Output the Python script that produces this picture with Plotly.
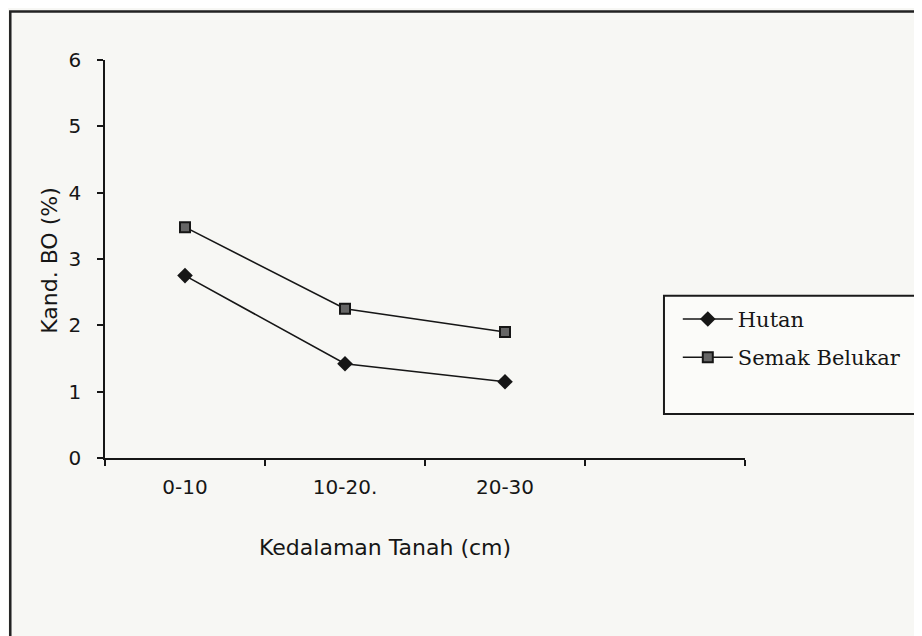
import plotly.graph_objects as go

depth_labels = ['0-10', '10-20.', '20-30']
slot_labels = depth_labels + [' ']
hutan = [2.75, 1.42, 1.15]
semak_belukar = [3.48, 2.25, 1.9]

colors_scheme = {
    'background': '#f7f7f4',
    'ink': '#161616',
    'square_fill': '#666666'
}

fig = go.Figure()
fig.add_trace(go.Scatter(
    name='Hutan',
    x=depth_labels,
    y=hutan,
    mode='lines+markers',
    line=dict(color=colors_scheme['ink'], width=1.6),
    marker=dict(symbol='diamond', size=12, color=colors_scheme['ink']),
    legendgroup='a'
))
fig.add_trace(go.Scatter(
    name='Semak Belukar',
    x=depth_labels,
    y=semak_belukar,
    mode='lines+markers',
    line=dict(color=colors_scheme['ink'], width=1.6),
    marker=dict(symbol='square', size=10, color=colors_scheme['square_fill'],
                line=dict(color=colors_scheme['ink'], width=2)),
    legendgroup='b'
))

# page body adds an 8px offset, so margins are trimmed by 8
fig.update_layout(
    width=922, height=636,
    margin=dict(l=97, r=185, t=52, b=186),
    plot_bgcolor=colors_scheme['background'],
    paper_bgcolor=colors_scheme['background'],
    font=dict(family='DejaVu Sans', size=20, color=colors_scheme['ink']),
    showlegend=True,
    legend=dict(
        x=0.895, y=0.40, xanchor='left', yanchor='top',
        bgcolor='rgba(0,0,0,0)', borderwidth=0,
        font=dict(family='DejaVu Serif', size=21, color=colors_scheme['ink']),
        itemwidth=50, tracegroupgap=8
    ),
    xaxis=dict(
        type='category', categoryorder='array', categoryarray=slot_labels,
        range=[-0.5, 3.5], tickson='boundaries',
        showline=True, linecolor=colors_scheme['ink'], linewidth=1.6,
        ticks='outside', ticklen=6, tickcolor=colors_scheme['ink'], tickwidth=1.5,
        showgrid=False, zeroline=False, ticklabelstandoff=10
    ),
    yaxis=dict(
        range=[0, 6], dtick=1,
        showline=True, linecolor=colors_scheme['ink'], linewidth=1.6,
        ticks='outside', ticklen=6, tickcolor=colors_scheme['ink'], tickwidth=1.5,
        showgrid=False, zeroline=False, ticklabelstandoff=12
    ),
    annotations=[
        dict(text='Kedalaman Tanah (cm)', xref='paper', yref='paper', x=0.4375, y=-0.226,
             xanchor='center', yanchor='middle', showarrow=False, font=dict(size=22)),
        dict(text='Kand. BO (%)', xref='paper', yref='paper', x=-0.086, y=0.498,
             xanchor='center', yanchor='middle', textangle=-90, showarrow=False, font=dict(size=22))
    ],
    shapes=[
        # outer frame of the scanned chart, only left and top edges visible
        dict(type='rect', xref='paper', yref='paper', x0=-0.148, x1=1.35, y0=-0.5, y1=1.122,
             line=dict(color='#222222', width=2.5), layer='below'),
        # legend box
        dict(type='rect', xref='paper', yref='paper', x0=0.8734, x1=1.2703, y0=0.1107, y1=0.4075,
             line=dict(color='#1a1a1a', width=2), fillcolor='#fbfbf9', layer='below')
    ]
)

fig.write_html("out.html")
